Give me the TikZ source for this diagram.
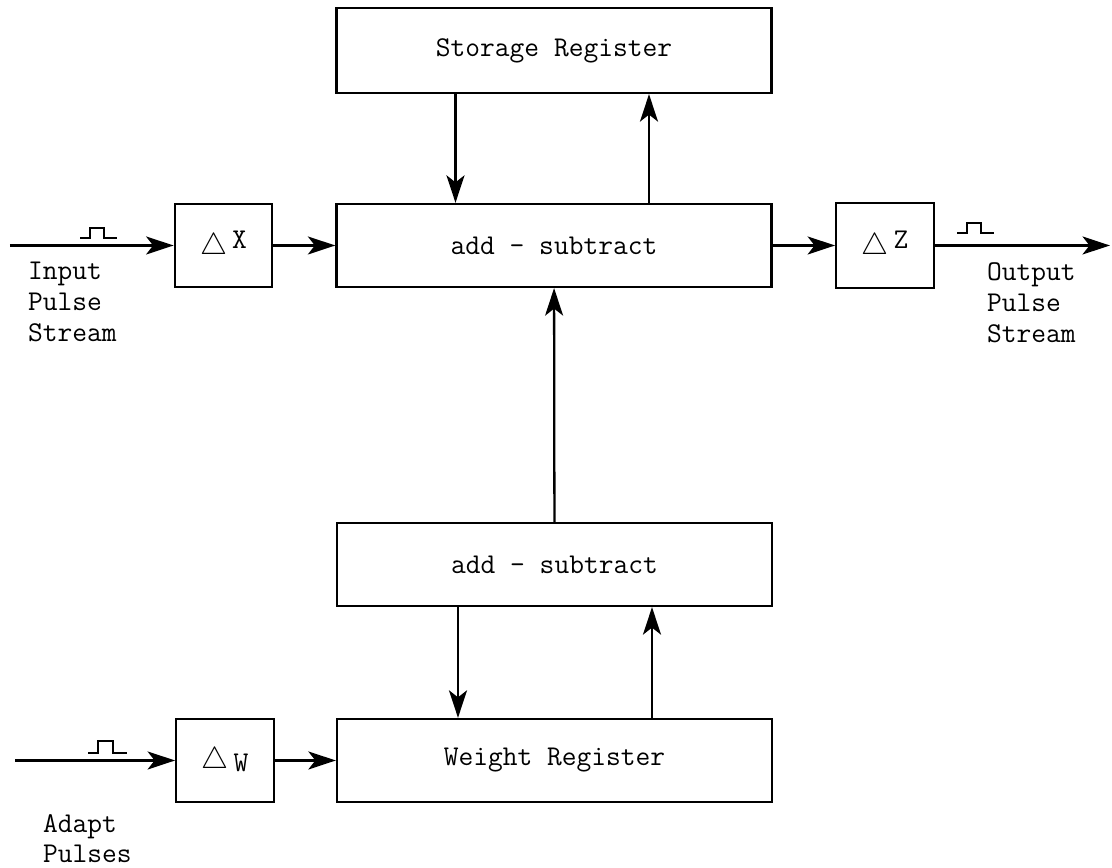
\documentclass[tikz,border=0pt]{standalone}
\usepackage{amssymb}
\usepackage{tikz}
\usetikzlibrary{positioning, arrows.meta}

\begin{document}
\begin{tikzpicture}[
        font = \fontsize{16.3}{17.6}\selectfont\ttfamily,
        line width = 1.3pt,
        block/.style = {shape = rectangle, draw = black, minimum width = 8.7cm, minimum height = 1.66cm, inner sep = 0pt},
        delta/.style = {shape = rectangle, draw = black, minimum width = 1.95cm, minimum height = 1.66cm, inner sep = 0pt},
        label/.style = {anchor = north west, align = left, inner sep = 0pt},
        arr/.style = {-{Stealth[length = 0.55cm, width = 0.36cm, inset = 0.14cm]}},
        pulse/.style = {line width = 1pt}
    ]
            \useasboundingbox (0, 0) rectangle (22.24, 17.36);

            % blocks
            \node [block, minimum height = 1.7cm] (store) at (11.08, 16.35) {Storage Register};
            \node [block] (addtop) at (11.08, 12.45) {add - subtract};
            \node [block] (addbot) at (11.09, 6.07) {add - subtract};
            \node [block] (weight) at (11.09, 2.15) {Weight Register};

            \node [delta] (dx) at (4.47, 12.45) {$\bigtriangleup$\,\raisebox{0.5ex}{X}};
            \node [delta, minimum height = 1.7cm] (dz) at (17.7, 12.45) {$\bigtriangleup$\,\raisebox{0.5ex}{Z}};
            \node [delta] (dw) at (4.5, 2.15) {$\bigtriangleup$\,\raisebox{-0.3ex}{W}};

            % free ends
            \coordinate (in) at (0.2, 12.45);
            \coordinate (out) at (22.2, 12.45);
            \coordinate (adapt) at (0.3, 2.15);

            % texts
            \node [label] (inlabel) at (0.54, 12.14) {Input\\Pulse\\Stream};
            \node [label] (outlabel) at (19.72, 12.12) {Output\\Pulse\\Stream};
            \node [label] (adaptlabel) at (0.84, 1.1) {Adapt\\Pulses};

            % pulses
            \draw [pulse] (1.6, 12.6) -- ++(0.2, 0) -- ++(0, 0.2) -- ++(0.28, 0) -- ++(0, -0.2) -- ++(0.26, 0);
            \draw [pulse] (19.14, 12.7) -- ++(0.2, 0) -- ++(0, 0.2) -- ++(0.28, 0) -- ++(0, -0.2) -- ++(0.26, 0);
            \draw [pulse] (1.76, 2.3) -- ++(0.2, 0) -- ++(0, 0.24) -- ++(0.3, 0) -- ++(0, -0.24) -- ++(0.28, 0);

            % signal path
            \draw [arr] (in) -- (dx);
            \draw [arr] (dx) -- (addtop);
            \draw [arr] (addtop) -- (dz);
            \draw [arr] (dz) -- (out);

            \draw [arr] ([xshift = -1.97cm]store.south) -- ([xshift = -1.97cm]addtop.north);
            \draw [arr] ([xshift = 1.9cm]addtop.north) -- ([xshift = 1.9cm]store.south);

            \draw [arr] (addbot) -- (addtop);

            \draw [arr] ([xshift = -1.93cm]addbot.south) -- ([xshift = -1.93cm]weight.north);
            \draw [arr] ([xshift = 1.95cm]weight.north) -- ([xshift = 1.95cm]addbot.south);

            \draw [arr] (adapt) -- (dw);
            \draw [arr] (dw) -- (weight);
        \end{tikzpicture}
\end{document}
